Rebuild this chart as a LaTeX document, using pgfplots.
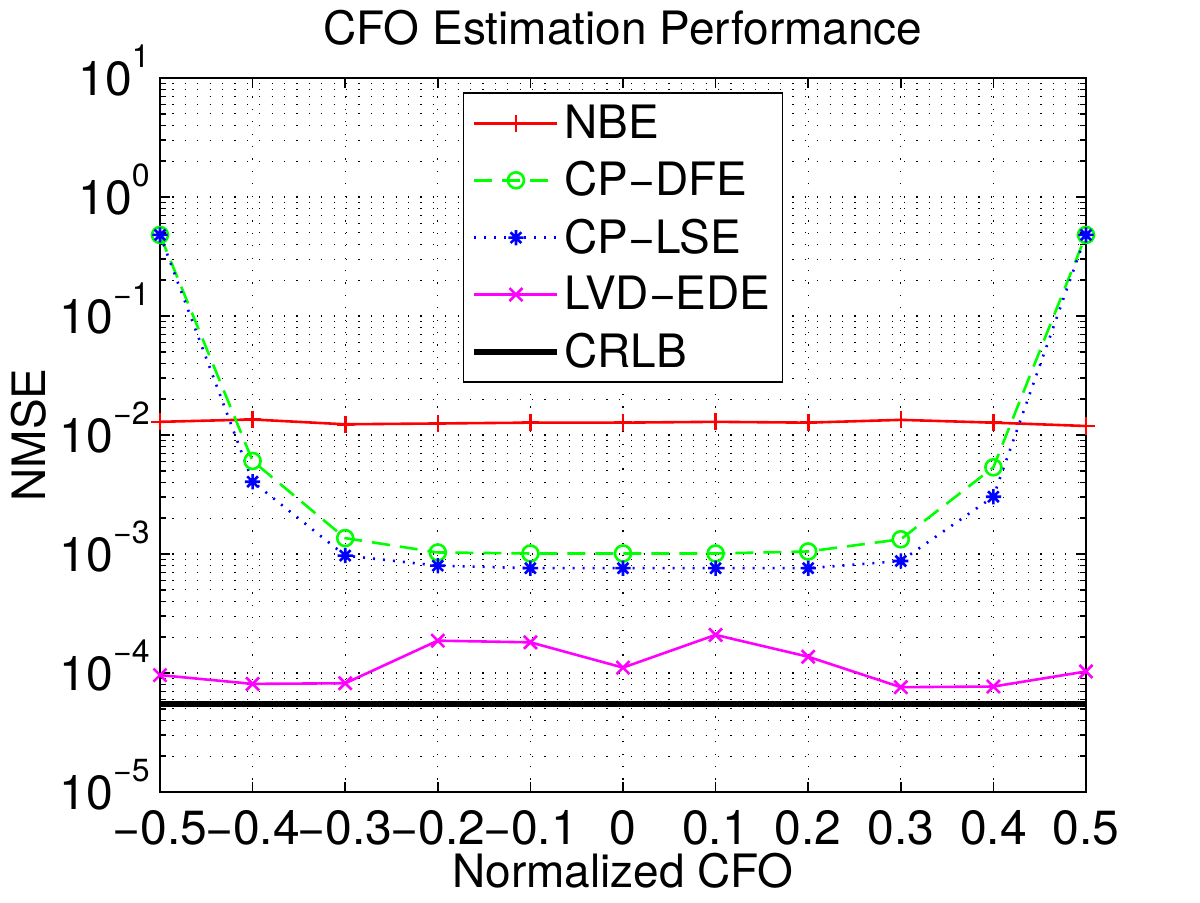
\documentclass[border=0pt]{standalone}
\usepackage{fontspec}
\setmainfont{TeX Gyre Heros}
\usepackage{pgfplots}
\pgfplotsset{compat=1.18}

\definecolor{mred}{rgb}{1,0,0}
\definecolor{mgreen}{rgb}{0,1,0}
\definecolor{mblue}{rgb}{0,0,1}
\definecolor{mmag}{rgb}{1,0,1}

% MATLAB style asterisk: + and x together
\pgfdeclareplotmark{mstar}{%
  \pgfpathmoveto{\pgfqpoint{0pt}{\pgfplotmarksize}}%
  \pgfpathlineto{\pgfqpoint{0pt}{-\pgfplotmarksize}}%
  \pgfpathmoveto{\pgfqpoint{\pgfplotmarksize}{0pt}}%
  \pgfpathlineto{\pgfqpoint{-\pgfplotmarksize}{0pt}}%
  \pgfpathmoveto{\pgfqpoint{.7071\pgfplotmarksize}{.7071\pgfplotmarksize}}%
  \pgfpathlineto{\pgfqpoint{-.7071\pgfplotmarksize}{-.7071\pgfplotmarksize}}%
  \pgfpathmoveto{\pgfqpoint{-.7071\pgfplotmarksize}{.7071\pgfplotmarksize}}%
  \pgfpathlineto{\pgfqpoint{.7071\pgfplotmarksize}{-.7071\pgfplotmarksize}}%
  \pgfusepathqstroke}

\newcommand{\fs}{\fontsize{23}{27}\selectfont}
\newcommand{\ft}{\fontsize{24}{28}\selectfont}
\newcommand{\pw}[1]{10\raisebox{14pt}{\fontsize{16}{16}\selectfont #1}}

\begin{document}
\begin{tikzpicture}
\path[use as bounding box] (-80pt,-55.5pt) rectangle (520pt,396pt);
\begin{axis}[
    at={(0pt,0pt)}, anchor=south west,
    scale only axis,
    width=463pt, height=357pt,
    xmin=-0.5, xmax=0.5,
    ymode=log, ymin=1e-5, ymax=10,
    xtick={-0.5,-0.4,-0.3,-0.2,-0.1,0,0.1,0.2,0.3,0.4,0.5},
    xticklabels={−0.5,−0.4,−0.3,−0.2,−0.1,0,0.1,0.2,0.3,0.4,0.5},
    ytick={1e-5,1e-4,1e-3,1e-2,1e-1,1,10},
    yticklabels={\pw{−5},\pw{−4},\pw{−3},\pw{−2},\pw{−1},\pw{0},\pw{1}},
    minor x tick num=0,
    axis line style={line width=1pt},
    major tick length=5pt, minor tick length=3pt,
    every tick/.style={black, line width=0.8pt},
    xmajorgrids, ymajorgrids, yminorgrids,
    grid style={black, line width=0.6pt, dash pattern=on 0.6pt off 5.6pt},
    minor grid style={black, line width=0.6pt, dash pattern=on 0.6pt off 5.6pt},
    xticklabel style={font=\ft, anchor=base, inner sep=0pt, yshift=-26pt},
    yticklabel style={font=\ft, anchor=base east, inner sep=0pt, xshift=-5pt, yshift=-8.8pt},
    xlabel={Normalized CFO},
    ylabel={NMSE},
    title={CFO Estimation Performance},
    xlabel style={font=\fs, at={(0.5,0)}, anchor=base, inner sep=0pt, yshift=-47.5pt},
    ylabel style={font=\fs, at={(0,0.5)}, anchor=base, yshift=57pt},
    title style={font=\fs, at={(0.5,1)}, anchor=base, yshift=10.5pt},
    clip=false,
    legend cell align=left,
    legend style={at={(0.5,0.98)}, anchor=north, draw=black, line width=0.8pt,
        fill=white, font=\fs, inner xsep=4pt, inner ysep=4pt, row sep=6pt,
        /tikz/every even column/.append style={column sep=6pt}},
    legend image code/.code={\draw[mark repeat=2,mark phase=2]
        plot coordinates {(0pt,0pt) (20.75pt,0pt) (41.5pt,0pt)};},
]

% NBE
\addplot[mred, line width=1.3pt, mark=+, mark size=4.3pt] coordinates {
    (-0.5,0.0129) (-0.4,0.0135) (-0.3,0.0123) (-0.2,0.0125) (-0.1,0.0127)
    (0,0.0127) (0.1,0.0129) (0.2,0.0127) (0.3,0.0134) (0.4,0.0127) (0.5,0.0119)
};

% CP-DFE
\addplot[mgreen, line width=1.3pt, dash pattern=on 9pt off 5pt, mark=o, mark size=4pt,
    mark options={solid}] coordinates {
    (-0.5,0.48) (-0.4,0.00605) (-0.3,0.00136) (-0.2,0.00103) (-0.1,0.00101)
    (0,0.00101) (0.1,0.00101) (0.2,0.00105) (0.3,0.00133) (0.4,0.00535) (0.5,0.48)
};

% CP-LSE
\addplot[mblue, line width=1.3pt, dash pattern=on 1pt off 4pt, mark=mstar, mark size=3.8pt,
    mark options={solid}] coordinates {
    (-0.5,0.48) (-0.4,0.00405) (-0.3,0.00097) (-0.2,0.000798) (-0.1,0.00076)
    (0,0.00076) (0.1,0.00076) (0.2,0.00076) (0.3,0.000873) (0.4,0.00303) (0.5,0.48)
};

% LVD-EDE
\addplot[mmag, line width=1.3pt, mark=x, mark size=4.6pt] coordinates {
    (-0.5,9.6e-5) (-0.4,8.1e-5) (-0.3,8.2e-5) (-0.2,1.87e-4) (-0.1,1.81e-4)
    (0,1.11e-4) (0.1,2.09e-4) (0.2,1.37e-4) (0.3,7.6e-5) (0.4,7.7e-5) (0.5,1.03e-4)
};

% CRLB
\addplot[black, line width=3pt] coordinates {
    (-0.5,5.5e-5) (0.5,5.5e-5)
};

\legend{NBE, CP−DFE, CP−LSE, LVD−EDE, CRLB}
\end{axis}
\end{tikzpicture}
\end{document}
